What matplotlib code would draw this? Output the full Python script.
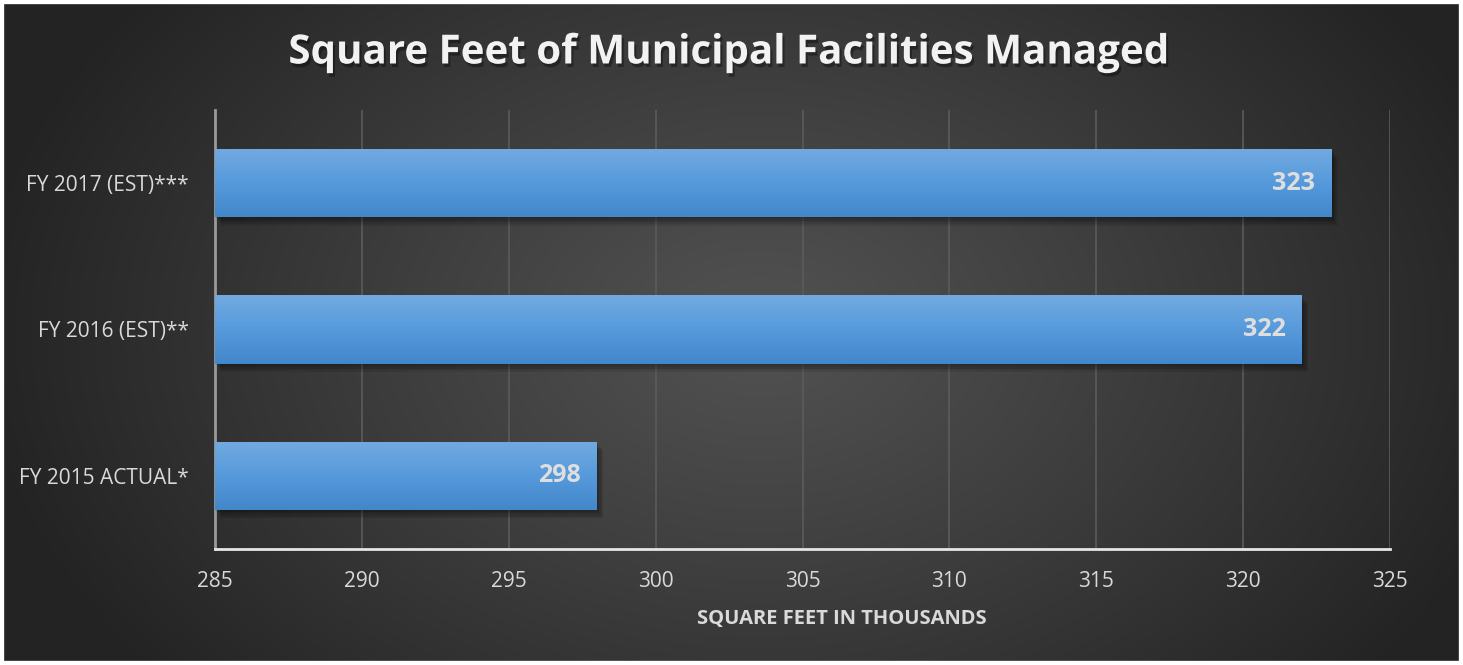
import numpy as np
import matplotlib
matplotlib.use("Agg")
import matplotlib.pyplot as plt
import matplotlib.patheffects as pe
from matplotlib.patches import Rectangle

categories = ["FY 2015 ACTUAL*", "FY 2016 (EST)**", "FY 2017 (EST)***"]
values = [298, 322, 323]
xticks = [285, 290, 295, 300, 305, 310, 315, 320, 325]
title = "Square Feet of Municipal Facilities Managed"
xlabel = "SQUARE FEET IN THOUSANDS"

FONT = "Open Sans"
W, H = 1463, 665
fig = plt.figure(figsize=(W / 100, H / 100), dpi=100)

# background radial gradient
bg = fig.add_axes([0, 0, 1, 1], zorder=-10)
yy, xx = np.mgrid[0:H, 0:W]
cx, cy = 760, 330
r = np.sqrt(((xx - cx) / 780.0) ** 2 + ((yy - cy) / 540.0) ** 2)
r = np.clip(r, 0, 1)
inner, outer = 0.32, 0.14
val = inner + (outer - inner) * r ** 1.1
img = np.dstack([val, val, val])
bg.imshow(img, extent=[0, W, H, 0], aspect="auto", interpolation="bilinear")
bg.set_xlim(0, W)
bg.set_ylim(H, 0)
bg.axis("off")
bg.add_patch(Rectangle((0, 0), W, H, fill=False, edgecolor="white", linewidth=6))

ax = fig.add_axes([215 / W, 1 - 549 / H, (1390 - 215) / W, (549 - 110) / H])
ax.set_facecolor("none")

shadow = [pe.SimplePatchShadow(offset=(k * 0.9, -k * 1.2), shadow_rgbFace="black", alpha=0.09)
          for k in range(1, 6)]
ypos = np.arange(len(categories))
bars = ax.barh(ypos, [v - xticks[0] for v in values], left=xticks[0], height=0.465,
               color="#5599d9", zorder=3, path_effects=shadow + [pe.Normal()])

# gradient overlay inside each bar
grad = np.linspace(0, 1, 100)[:, None]
top = np.array([114, 170, 224]) / 255
mid = np.array([86, 154, 220]) / 255
bot = np.array([66, 135, 202]) / 255
cols = np.where(grad[..., None] < 0.5,
                top + (mid - top) * (grad[..., None] / 0.5),
                mid + (bot - mid) * ((grad[..., None] - 0.5) / 0.5))
cols = np.repeat(cols, 2, axis=1)
for b in bars:
    x0, y0, w, h = b.get_x(), b.get_y(), b.get_width(), b.get_height()
    im = ax.imshow(cols, extent=[x0, x0 + w, y0, y0 + h], origin="upper",
                   aspect="auto", zorder=4, interpolation="bilinear")
    im.set_clip_path(b)

for b, v in zip(bars, values):
    ax.text(b.get_x() + b.get_width() - 0.55, b.get_y() + b.get_height() / 2, f"{v}",
            ha="right", va="center", color="#dedede", fontsize=18, fontweight="bold",
            family=FONT, zorder=5)

ax.set_xlim(xticks[0], xticks[-1])
ax.set_ylim(-0.5, len(categories) - 0.5)
ax.set_xticks(xticks)
ax.set_xticklabels([str(t) for t in xticks])
ax.set_yticks(ypos)
ax.set_yticklabels(categories)
ax.tick_params(axis="both", length=0, colors="#d9d9d9", labelsize=15)
ax.tick_params(axis="x", pad=16)
ax.tick_params(axis="y", pad=19)
for lab in ax.get_xticklabels() + ax.get_yticklabels():
    lab.set_family(FONT)

ax.grid(axis="x", color="#5b5b5b", linewidth=1.2, zorder=1)
ax.set_axisbelow(True)
for s in ["top", "right"]:
    ax.spines[s].set_visible(False)
ax.spines["bottom"].set_color("#e6e6e6")
ax.spines["bottom"].set_linewidth(2)
ax.spines["left"].set_color("#9a9a9a")
ax.spines["left"].set_linewidth(2)
ax.spines["bottom"].set_zorder(6)

fig.text(842 / W, 1 - 619 / H, xlabel, ha="center", va="center", color="#d9d9d9",
         fontsize=14.5, fontweight="bold", family=FONT)

fig.text(728 / W, 1 - 53 / H, title, ha="center", va="center", color="#f2f2f2", fontsize=29,
         fontweight="bold", family=FONT,
         path_effects=[pe.withSimplePatchShadow(offset=(1.5, -2.5), shadow_rgbFace="black", alpha=0.35)])

fig.savefig("out.png", dpi=100)
